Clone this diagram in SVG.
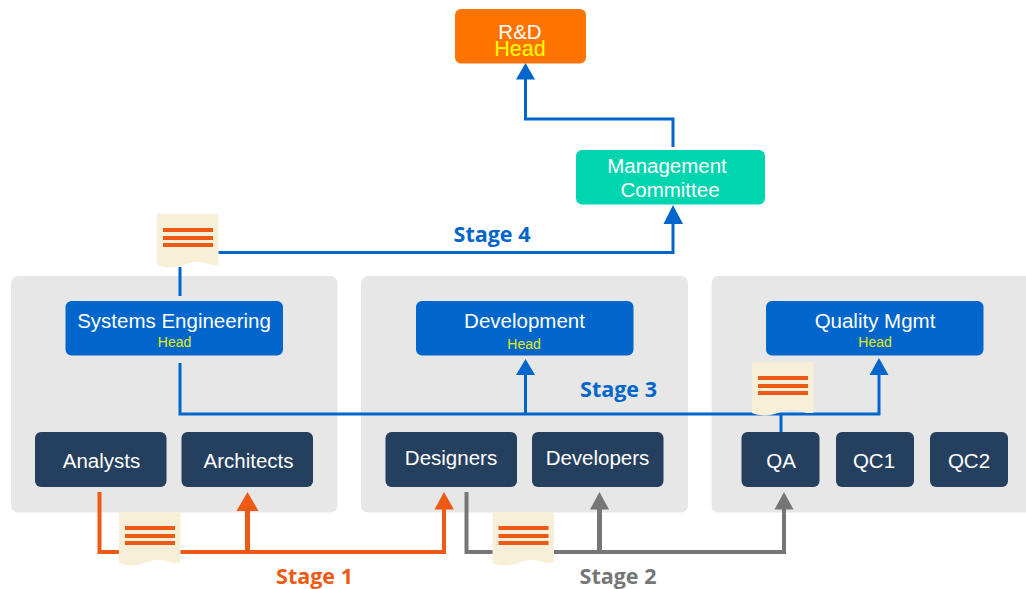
<svg xmlns="http://www.w3.org/2000/svg" width="1026" height="589" viewBox="0 0 1026 589">
<style>
text{font-family:"Liberation Sans",Arial,sans-serif;text-anchor:middle;fill:#fff}
.panel{fill:#e7e7e7}
.blue{fill:#0066cc}.navy{fill:#253f5f}
.n{font-size:20.500px}
.h{font-size:14px;fill:#e0ee10}
.st{font-family:"Open Sans","Noto Sans",sans-serif;font-weight:700;font-size:21.500px}
.c{fill:none;stroke-linejoin:miter}
.b{stroke:#0066cc;stroke-width:3}
.o{stroke:#ee5a14;stroke-width:4}
.g{stroke:#767676;stroke-width:4}
.paper{fill:#f7efd8}
.bar{fill:#ee5a14}
</style>
<defs>
<g id="doc">
<path class="paper" d="M0 0H61.500V50.500C53 53 46 46 36 48C27 50 20 54 11 53.500C6 53.200 2 52 0 51Z"/>
<rect class="bar" x="6" y="14" width="50" height="4"/>
<rect class="bar" x="6" y="22" width="50" height="4"/>
<rect class="bar" x="6" y="29" width="50" height="4"/>
</g>
</defs>
<g id="panels">
<rect class="panel" x="11" y="276" width="326.500" height="236.500" rx="7"/>
<rect class="panel" x="361" y="276" width="327" height="236.500" rx="7"/>
<rect class="panel" x="711.500" y="276" width="325" height="236.500" rx="7"/>
</g>
<g id="connectors">
<path class="c b" d="M180 267V296"/>
<path class="c b" d="M218 252.500H673V222"/>
<path class="blue" d="M673 205L683 224H663.500Z"/>
<path class="c b" d="M673 147V119H525.500V78"/>
<path class="blue" d="M525.500 63L535 79.500H516Z"/>
<path class="c b" d="M180 363V414H879V372"/>
<path class="c b" d="M525.500 414V372"/>
<path class="c b" d="M781 414V432"/>
<path class="blue" d="M525.500 359L535 375H516Z"/>
<path class="blue" d="M879 358L888.500 375H869.500Z"/>
<path class="c o" d="M99.500 492V552H444V507"/>
<path class="c o" d="M247.500 552V508" style="stroke-width:5"/>
<path fill="#ee5a14" d="M247.500 492L258.500 511H236.500Z"/>
<path fill="#ee5a14" d="M444 492L454 509.500H434.500Z"/>
<path class="c g" d="M466.500 492V552H784V507"/>
<path class="c g" d="M599.500 552V508" style="stroke-width:5"/>
<path fill="#767676" d="M599.500 492L609 509.500H590Z"/>
<path fill="#767676" d="M784 492L793.500 509.500H774.500Z"/>
</g>
<g id="doc-stage4"><use href="#doc" x="157" y="214"/></g>
<g id="doc-stage1"><use href="#doc" x="119" y="512"/></g>
<g id="doc-stage2"><use href="#doc" x="492.500" y="512"/></g>
<g id="doc-stage3"><use href="#doc" x="752" y="362"/></g>
<g id="rd"><rect x="455" y="9" width="131" height="54.500" rx="6" fill="#ff7300"/><text class="n" x="520" y="39">R&amp;D</text><text x="520" y="56" style="font-size:21.500px;fill:#ffff00">Head</text></g>
<g id="committee"><rect x="576" y="150" width="189" height="54.500" rx="6" fill="#00d5b0"/><text class="n" x="667" y="173">Management</text><text class="n" x="670" y="197">Committee</text></g>
<g id="systems"><rect class="blue" x="65.500" y="301" width="217.500" height="54.500" rx="6"/><text class="n" x="174" y="328">Systems Engineering</text><text class="h" x="174.500" y="347">Head</text></g>
<g id="development"><rect class="blue" x="416" y="301" width="217.500" height="54.500" rx="6"/><text class="n" x="524.500" y="328">Development</text><text class="h" x="524" y="349">Head</text></g>
<g id="quality"><rect class="blue" x="766" y="301" width="217.500" height="54.500" rx="6"/><text class="n" x="875" y="328">Quality Mgmt</text><text class="h" x="875" y="347">Head</text></g>
<g id="analysts"><rect class="navy" x="35" y="432" width="131.500" height="55" rx="6"/><text class="n" x="101.500" y="468">Analysts</text></g>
<g id="architects"><rect class="navy" x="181.500" y="432" width="131.500" height="55" rx="6"/><text class="n" x="248.500" y="468">Architects</text></g>
<g id="designers"><rect class="navy" x="385.500" y="432" width="131.500" height="55" rx="6"/><text class="n" x="451" y="465">Designers</text></g>
<g id="developers"><rect class="navy" x="532" y="432" width="131.500" height="55" rx="6"/><text class="n" x="597.500" y="465">Developers</text></g>
<g id="qa"><rect class="navy" x="741.500" y="432" width="78" height="55" rx="6"/><text class="n" x="781" y="468">QA</text></g>
<g id="qc1"><rect class="navy" x="836" y="432" width="78" height="55" rx="6"/><text class="n" x="874" y="468">QC1</text></g>
<g id="qc2"><rect class="navy" x="930" y="432" width="78" height="55" rx="6"/><text class="n" x="969" y="468">QC2</text></g>
<g id="stage-labels">
<text class="st" x="492" y="241.500" style="fill:#0066cc">Stage 4</text>
<text class="st" x="618.500" y="397" style="fill:#0066cc">Stage 3</text>
<text class="st" x="314.500" y="583.500" style="fill:#ee5a14">Stage 1</text>
<text class="st" x="618" y="583.500" style="fill:#767676">Stage 2</text>
</g>
</svg>
